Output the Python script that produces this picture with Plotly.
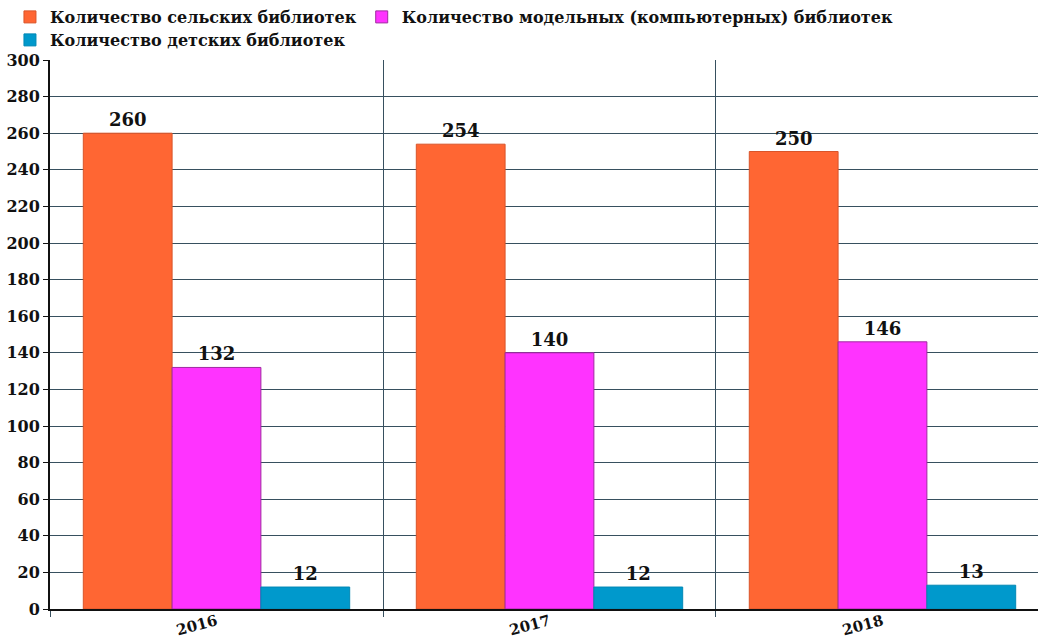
import plotly.graph_objects as go

years = ["2016", "2017", "2018"]
series_names = [
    "Количество сельских библиотек",
    "Количество модельных (компьютерных) библиотек",
    "Количество детских библиотек",
]
rural = [260, 254, 250]
model = [132, 140, 146]
children = [12, 12, 13]
colors = ["#FF6633", "#FF33FF", "#0099CC"]
line_colors = ["#D9552A", "#A02AA0", "#0088B5"]
legend_ids = ["legend", "legend", "legend2"]

FONT = "DejaVu Serif"

fig = go.Figure()
for name, vals, c, lc, lg in zip(series_names, [rural, model, children], colors, line_colors, legend_ids):
    fig.add_trace(go.Bar(
        x=years, y=vals, name=name, legend=lg,
        marker=dict(color=c, line=dict(color=lc, width=1)),
        text=[str(v) for v in vals], textposition="outside",
        textfont=dict(family=FONT, size=18, color="#111111", weight="bold"),
        cliponaxis=False,
    ))

legend_style = dict(
    orientation="h", xref="container", yref="container",
    x=0.0096, xanchor="left", yanchor="top",
    font=dict(family=FONT, size=16, color="#111111", weight="bold"),
    itemwidth=30, tracegroupgap=0,
    bgcolor="rgba(0,0,0,0)",
)

fig.update_layout(
    width=1038, height=639,
    barmode="group", bargap=0.2, bargroupgap=0,
    plot_bgcolor="white", paper_bgcolor="white",
    margin=dict(l=50, r=0, t=60, b=30, autoexpand=False),
    font=dict(family=FONT, size=16, color="#111111", weight="bold"),
    legend=dict(legend_style, y=1.0),
    legend2=dict(legend_style, y=0.964),
)

fig.update_xaxes(
    type="category", range=[-0.5, 2.467],
    tickson="boundaries", showgrid=True, gridcolor="#37505F", gridwidth=1,
    ticks="outside", ticklen=6, tickcolor="#37505F",
    showline=True, linecolor="#111111", linewidth=2,
    tickangle=-15, automargin=False, ticklabelstandoff=-4,
    tickfont=dict(family=FONT, size=15, color="#111111", weight="bold"),
)
fig.update_yaxes(
    range=[0, 300], dtick=20, showgrid=True, gridcolor="#37505F", gridwidth=1,
    ticks="outside", ticklen=5, tickcolor="#111111",
    showline=True, linecolor="#111111", linewidth=2,
    zeroline=False, automargin=False,
    tickfont=dict(family=FONT, size=16, color="#111111", weight="bold"),
)

fig.write_html("out.html", config={"displayModeBar": False},
               post_script="document.body.style.margin='0';")
